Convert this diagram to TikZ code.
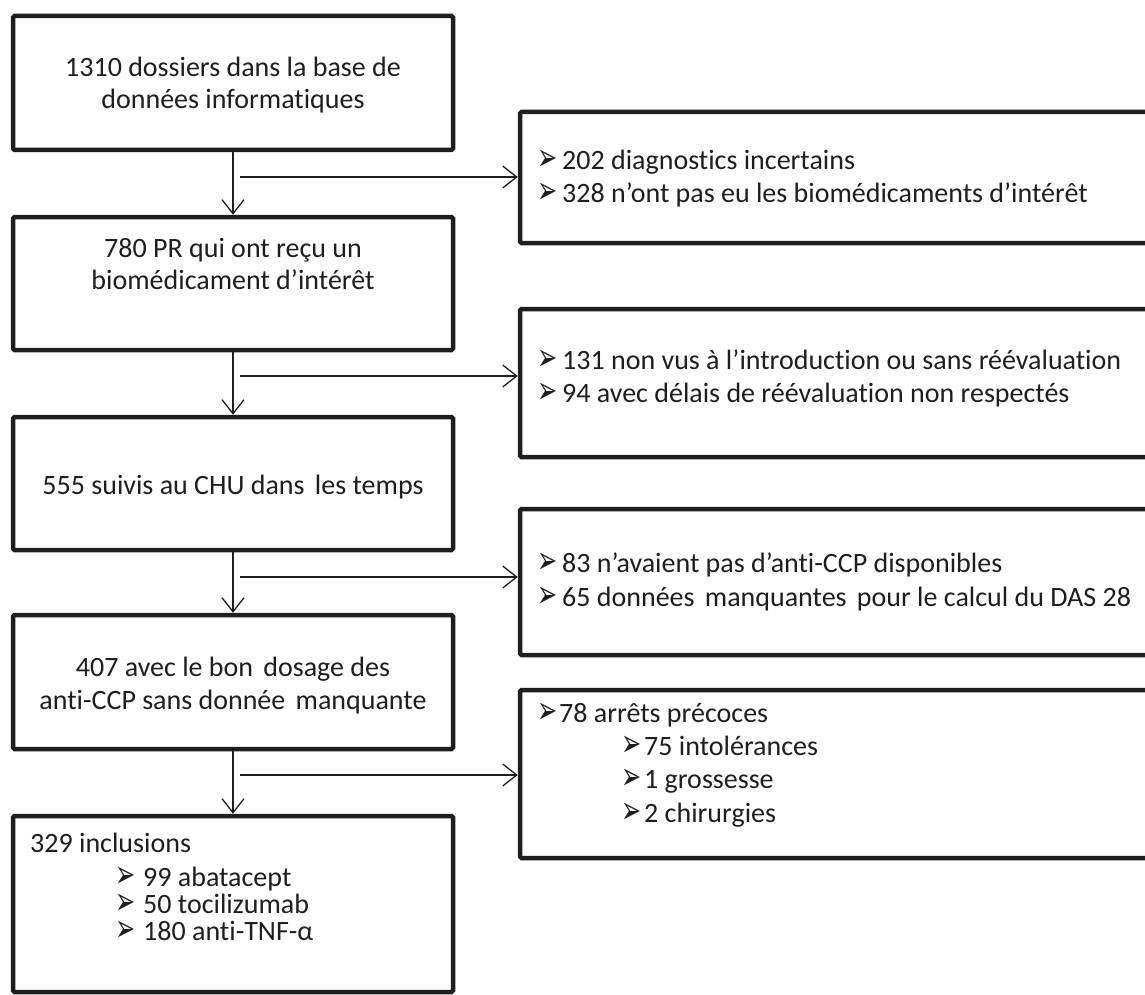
\documentclass[tikz,border=0pt]{standalone}
\usepackage{fontspec}
\setmainfont{Carlito}[Ligatures={NoCommon}]
\newfontfamily\symf{DejaVu Sans}
\usetikzlibrary{arrows.meta}
\definecolor{ink}{HTML}{1E1E1E}
\newcommand\bul[1]{\makebox[#1][l]{\raisebox{-1pt}[0pt][0pt]{\scalebox{1}[1.6]{\symf\fontsize{24}{24}\selectfont ➢}}}}
\begin{document}
\begin{tikzpicture}[x=1pt,y=-1pt,
  box/.style={draw=ink, line width=4.5pt, rounded corners=1.5pt, inner sep=0pt},
  lbox/.style={box, minimum width=440pt},
  rbox/.style={box, minimum width=650pt},
  txt/.style={inner sep=0pt, text=ink, font=\fontsize{28}{33}\selectfont},
  ctxt/.style={txt, anchor=base},
  ltxt/.style={txt, anchor=base west},
  arr/.style={draw=ink, line width=1.3pt, -{Straight Barb[length=14pt,width=22pt,line width=1.3pt]}}]
\useasboundingbox (0,0) rectangle (1145,995);
\clip (0,0) rectangle (1145,995);

% main boxes
\node[lbox, minimum height=134pt] (b1) at (233,83) {};
\node[lbox, minimum height=133pt] (b2) at (233,283.5) {};
\node[lbox, minimum height=133pt] (b3) at (233,483.5) {};
\node[lbox, minimum height=134pt] (b4) at (233,682) {};
\node[lbox, minimum height=176pt] (b5) at (233,904) {};

% exclusion boxes
\node[rbox, minimum height=131pt] (r1) at (845,177.5) {};
\node[rbox, minimum height=148pt] (r2) at (845,383) {};
\node[rbox, minimum height=146pt] (r3) at (845,582) {};
\node[rbox, minimum height=168pt] (r4) at (845,774) {};

% main texts
\node[ctxt] (t1a) at (233,77) {1310 dossiers dans la base de};
\node[ctxt] (t1b) at (233,109) {données informatiques};
\node[ctxt] (t2a) at (233,257) {780 PR qui ont reçu un};
\node[ctxt] (t2b) at (233,289) {biomédicament d’intérêt};
\node[ctxt] (t3a) at (233,494) {555 suivis au CHU dans\hspace{4pt} les temps};
\node[ctxt] (t4a) at (233,676) {407 avec le bon\hspace{4pt} dosage des};
\node[ctxt] (t4b) at (233,709) {anti-CCP sans donnée\hspace{4pt} manquante};
\node[ltxt] (t5a) at (30,852) {329 inclusions};
\node[ltxt] (t5b) at (115,886) {\bul{28pt}99 abatacept};
\node[ltxt] (t5c) at (115,913) {\bul{28pt}50 tocilizumab};
\node[ltxt] (t5d) at (115,940) {\bul{28pt}180 anti-TNF-α};

% exclusion texts
\node[ltxt] (u1a) at (537,170) {\bul{25pt}202 diagnostics incertains};
\node[ltxt] (u1b) at (537,203) {\bul{25pt}328 n’ont pas eu les biomédicaments d’intérêt};
\node[ltxt] (u2a) at (537,369) {\bul{25pt}131 non vus à l’introduction ou sans réévaluation};
\node[ltxt] (u2b) at (537,402) {\bul{25pt}94 avec délais de réévaluation non respectés};
\node[ltxt] (u3a) at (537,572) {\bul{25pt}83 n’avaient pas d’anti-CCP disponibles};
\node[ltxt] (u3b) at (537,606) {\bul{25pt}65 données\hspace{4pt} manquantes\hspace{4pt} pour le calcul du DAS 28};
\node[ltxt] (u4a) at (537,722) {\bul{22pt}78 arrêts précoces};
\node[ltxt] (u4b) at (621,755) {\bul{23pt}75 intolérances};
\node[ltxt] (u4c) at (621,788) {\bul{23pt}1 grossesse};
\node[ltxt] (u4d) at (621,822) {\bul{23pt}2 chirurgies};

% vertical connectors
\draw[arr] (b1.south) -- (b2.north);
\draw[arr] (b2.south) -- (b3.north);
\draw[arr] (b3.south) -- (b4.north);
\draw[arr] (b4.south) -- (b5.north);

% horizontal connectors
\coordinate (h1) at (240,177);
\coordinate (h2) at (240,376);
\coordinate (h3) at (240,577);
\coordinate (h4) at (240,775);
\draw[arr] (h1) -- (h1 -| r1.west);
\draw[arr] (h2) -- (h2 -| r2.west);
\draw[arr] (h3) -- (h3 -| r3.west);
\draw[arr] (h4) -- (h4 -| r4.west);
\end{tikzpicture}
\end{document}
